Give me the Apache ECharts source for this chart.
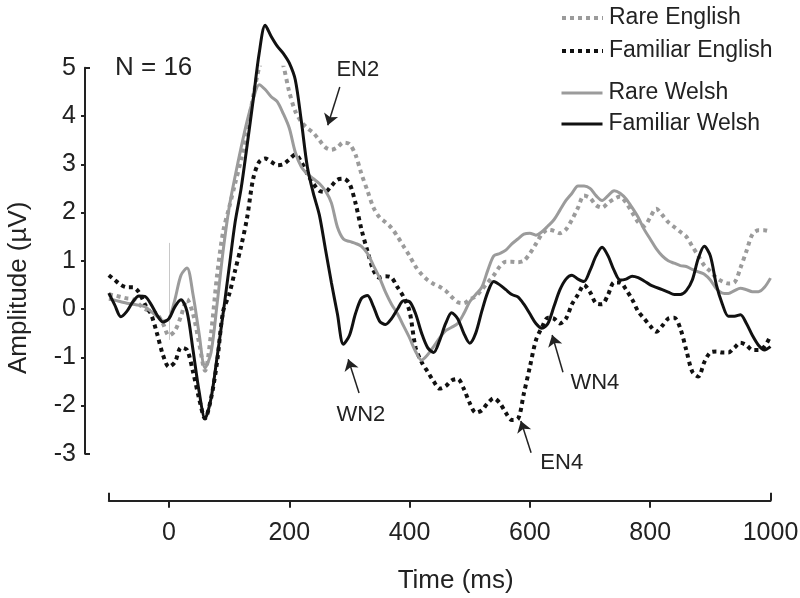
<!DOCTYPE html>
<html>
<head>
<meta charset="utf-8">
<script src="https://cdn.jsdelivr.net/npm/echarts@6/dist/echarts.min.js"></script>
<style>
  html, body { margin: 0; padding: 0; background: #fff; }
  #chart { width: 800px; height: 598px; }
</style>
</head>
<body>
<div id="chart"></div>
<script>
// Sample times (ms), one value every 10 ms from -100 to 1000
const timeMs = [
  -100, -90, -80, -70, -60, -50, -40, -30, -20, -10,
  0, 10, 20, 30, 40, 50, 60, 70, 80, 90,
  100, 110, 120, 130, 140, 150, 160, 170, 180, 190,
  200, 210, 220, 230, 240, 250, 260, 270, 280, 290,
  300, 310, 320, 330, 340, 350, 360, 370, 380, 390,
  400, 410, 420, 430, 440, 450, 460, 470, 480, 490,
  500, 510, 520, 530, 540, 550, 560, 570, 580, 590,
  600, 610, 620, 630, 640, 650, 660, 670, 680, 690,
  700, 710, 720, 730, 740, 750, 760, 770, 780, 790,
  800, 810, 820, 830, 840, 850, 860, 870, 880, 890,
  900, 910, 920, 930, 940, 950, 960, 970, 980, 990,
  1000
];

// Grand-average amplitudes (µV)
const rareEnglish = [
  0.30, 0.28, 0.25, 0.22, 0.20, 0.10, 0.00, -0.05, -0.10, -0.30,
  -0.55, -0.45, -0.15, 0.20, -0.10, -0.70, -1.28, -0.50, 0.70, 1.60,
  2.10, 2.60, 3.10, 3.70, 4.40, 5.00, 5.30, 5.48, 5.40, 5.05,
  4.50, 4.10, 3.88, 3.75, 3.65, 3.50, 3.35, 3.30, 3.35, 3.45,
  3.42, 3.20, 2.80, 2.45, 2.10, 1.90, 1.80, 1.68, 1.50, 1.30,
  1.10, 0.88, 0.72, 0.60, 0.52, 0.46, 0.38, 0.25, 0.14, 0.12,
  0.20, 0.26, 0.40, 0.55, 0.70, 0.88, 0.98, 0.98, 0.97, 1.00,
  1.15, 1.35, 1.55, 1.64, 1.62, 1.57, 1.65, 1.85, 2.10, 2.35,
  2.30, 2.15, 2.10, 2.20, 2.28, 2.33, 2.20, 2.00, 1.80, 1.72,
  1.90, 2.08, 1.95, 1.80, 1.70, 1.60, 1.50, 1.30, 1.10, 0.90,
  0.78, 0.65, 0.57, 0.53, 0.55, 0.85, 1.20, 1.55, 1.63, 1.63,
  1.60
];

const familiarEnglish = [
  0.70, 0.60, 0.50, 0.45, 0.45, 0.35, 0.10, -0.10, -0.50, -0.95,
  -1.20, -1.10, -0.80, -0.85, -1.30, -1.85, -2.27, -1.85, -1.10, -0.05,
  0.30, 0.80, 1.30, 1.90, 2.70, 3.05, 3.12, 3.05, 2.98, 3.00,
  3.10, 3.20, 3.05, 2.80, 2.60, 2.45, 2.43, 2.55, 2.68, 2.70,
  2.60, 2.20, 1.65, 1.20, 0.80, 0.65, 0.68, 0.65, 0.45, 0.25,
  -0.05, -0.80, -1.10, -1.30, -1.50, -1.65, -1.60, -1.48, -1.45, -1.65,
  -1.95, -2.15, -2.10, -1.95, -1.85, -1.95, -2.15, -2.30, -2.28, -1.75,
  -1.20, -0.65, -0.38, -0.18, -0.20, -0.30, -0.20, 0.10, 0.30, 0.50,
  0.35, 0.12, 0.10, 0.30, 0.55, 0.55, 0.40, 0.20, -0.05, -0.20,
  -0.35, -0.47, -0.35, -0.20, -0.18, -0.40, -0.85, -1.30, -1.40, -1.10,
  -0.90, -0.88, -0.90, -0.90, -0.80, -0.70, -0.75, -0.85, -0.85, -0.78,
  -0.55
];

const rareWelsh = [
  0.20, 0.18, 0.15, 0.12, 0.10, 0.08, 0.05, -0.05, -0.15, -0.25,
  -0.20, 0.20, 0.70, 0.85, 0.30, -0.50, -1.22, -0.90, 0.10, 1.20,
  2.10, 2.75, 3.35, 3.90, 4.35, 4.65, 4.55, 4.40, 4.30, 4.05,
  3.75, 3.25, 2.95, 2.80, 2.70, 2.60, 2.45, 2.20, 1.70, 1.45,
  1.40, 1.36, 1.30, 1.15, 0.90, 0.65, 0.35, 0.10, -0.10, -0.35,
  -0.60, -0.88, -1.06, -0.95, -0.78, -0.60, -0.45, -0.38, -0.30, -0.10,
  0.15, 0.30, 0.45, 0.80, 1.10, 1.15, 1.22, 1.35, 1.45, 1.55,
  1.57, 1.53, 1.60, 1.72, 1.85, 2.05, 2.25, 2.40, 2.55, 2.55,
  2.50, 2.35, 2.25, 2.35, 2.45, 2.40, 2.28, 2.10, 1.90, 1.65,
  1.45, 1.25, 1.10, 1.00, 0.95, 0.90, 0.88, 0.82, 0.77, 0.72,
  0.60, 0.42, 0.33, 0.32, 0.38, 0.43, 0.40, 0.36, 0.36, 0.45,
  0.64
];

const familiarWelsh = [
  0.33, 0.08, -0.16, -0.05, 0.15, 0.27, 0.26, 0.10, -0.12, -0.27,
  -0.20, 0.05, 0.19, -0.05, -0.85, -1.70, -2.27, -1.85, -1.00, -0.10,
  0.85, 1.80, 2.50, 3.40, 4.33, 5.30, 5.88, 5.65, 5.45, 5.30,
  5.10, 4.75, 3.90, 2.95, 2.40, 1.95, 1.25, 0.55, -0.10, -0.73,
  -0.55, -0.10, 0.22, 0.28, 0.05, -0.25, -0.32, -0.20, 0.00, 0.17,
  0.15, -0.10, -0.50, -0.80, -0.90, -0.65, -0.30, -0.08, -0.20, -0.50,
  -0.71, -0.50, -0.05, 0.35, 0.57, 0.50, 0.40, 0.30, 0.25, 0.10,
  -0.10, -0.30, -0.40, -0.30, 0.05, 0.40, 0.62, 0.70, 0.62, 0.57,
  0.80, 1.10, 1.28, 1.10, 0.80, 0.60, 0.62, 0.68, 0.65, 0.58,
  0.50, 0.45, 0.40, 0.35, 0.30, 0.30, 0.38, 0.60, 1.05, 1.30,
  1.10, 0.50, 0.10, -0.15, -0.15, -0.12, -0.30, -0.55, -0.75, -0.85,
  -0.78
];

// Axis ticks and labels
const xTickValues = [0, 200, 400, 600, 800];
const xLabelValues = [0, 200, 400, 600, 800, 1000];
const xEndCaps = [-100, 1000];
const yTickValues = [-2, -1, 0, 1, 2, 3, 4];
const yLabelValues = [-3, -2, -1, 0, 1, 2, 3, 4, 5];
const yEndCaps = [-3, 5];

// Component labels (time ms, amplitude µV) and their pointer arrows
const peakNames = ['EN2', 'WN2', 'WN4', 'EN4'];
const peakLabelAt = [[314, 4.95], [319, -2.2], [708, -1.53], [653, -2.95]];
const peakLabelShift = [0, 0, 0, 12];
const peakArrowFrom = [[284, 4.6], [316, -1.74], [655, -1.31], [602, -2.98]];
const peakArrowTo = [[264, 3.81], [298, -1.04], [637, -0.54], [585, -2.32]];

// Stimulus-onset marker at t = 0
const onsetMarker = [[0, 1.37], [0, -0.64]];

const FONT = '"Liberation Sans", Arial, Helvetica, sans-serif';
const INK = '#222';
const GRAY = '#9b9b9b';
const BLACK = '#111';

const pair = vals => timeMs.map((t, i) => [t, vals[i]]);

const chart = echarts.init(document.getElementById('chart'), null, { renderer: 'canvas' });

const axisLineStyle = { color: INK, width: 2 };

const styles = {
  'Rare English': { color: GRAY, width: 4, type: 'dotted' },
  'Familiar English': { color: BLACK, width: 4, type: 'dotted' },
  'Rare Welsh': { color: GRAY, width: 3, type: 'solid' },
  'Familiar Welsh': { color: BLACK, width: 3, type: 'solid' }
};

const legendItem = name => ({ name: name, lineStyle: styles[name] });

const legendBase = {
  orient: 'vertical',
  left: 555,
  itemWidth: 41,
  itemHeight: 14,
  selectedMode: false,
  itemStyle: { color: 'rgba(0,0,0,0)', borderWidth: 0, opacity: 0 },
  textStyle: { fontSize: 23, color: INK, fontFamily: FONT, lineHeight: 24, padding: [0, 0, 0, 1] }
};

chart.setOption({
  animation: false,
  backgroundColor: '#fff',
  textStyle: { fontFamily: FONT },
  grid: {
    left: 108.8, right: 29.5, top: 67.75, bottom: 144.25,
    containLabel: false, outerBoundsMode: 'none'
  },
  legend: [
    Object.assign({}, legendBase, { data: ['Rare English', 'Familiar English'].map(legendItem), top: 1, itemGap: 9 }),
    Object.assign({}, legendBase, { data: ['Rare Welsh', 'Familiar Welsh'].map(legendItem), top: 76, itemGap: 7 })
  ],
  xAxis: [
    {
      type: 'value', min: -100, max: 1000, position: 'bottom', offset: 47,
      axisLine: { show: true, onZero: false, lineStyle: axisLineStyle },
      axisTick: { show: true, customValues: xTickValues, length: 7, lineStyle: axisLineStyle },
      axisLabel: {
        customValues: xLabelValues, margin: 20, fontSize: 25, color: INK, fontFamily: FONT,
        formatter: v => String(v)
      },
      splitLine: { show: false },
      name: 'Time (ms)', nameLocation: 'middle', nameGap: 67,
      nameTextStyle: { fontSize: 26, color: INK, fontFamily: FONT, padding: [0, 0, 0, 32] }
    },
    {
      type: 'value', min: -100, max: 1000, position: 'bottom', offset: 47,
      axisLine: { show: false, onZero: false },
      axisTick: { show: true, inside: true, customValues: xEndCaps, length: 8, lineStyle: axisLineStyle },
      axisLabel: { show: false },
      splitLine: { show: false }
    }
  ],
  yAxis: [
    {
      type: 'value', min: -3, max: 5, interval: 1, position: 'left', offset: 23.8,
      axisLine: { show: true, onZero: false, lineStyle: axisLineStyle },
      axisTick: { show: true, customValues: yTickValues, length: 4, lineStyle: axisLineStyle },
      axisLabel: {
        customValues: yLabelValues, margin: 9, fontSize: 25, color: INK, fontFamily: FONT,
        formatter: v => String(v)
      },
      splitLine: { show: false },
      name: 'Amplitude (µV)', nameLocation: 'middle', nameGap: 53,
      nameTextStyle: { fontSize: 26, color: INK, fontFamily: FONT, padding: [0, 54, 0, 0] }
    },
    {
      type: 'value', min: -3, max: 5, interval: 1, position: 'left', offset: 23.8,
      axisLine: { show: false, onZero: false },
      axisTick: { show: true, inside: true, customValues: yEndCaps, length: 5, lineStyle: axisLineStyle },
      axisLabel: { show: false },
      splitLine: { show: false }
    }
  ],
  graphic: [
    {
      type: 'text', left: 115, top: 55, silent: true,
      style: { text: 'N = 16', font: '26px ' + FONT, fill: INK }
    }
  ],
  series: [
    {
      name: 'Rare English', type: 'line', data: pair(rareEnglish),
      symbol: 'none', smooth: 0.3, z: 2,
      itemStyle: { color: GRAY },
      lineStyle: styles['Rare English']
    },
    {
      name: 'Familiar English', type: 'line', data: pair(familiarEnglish),
      symbol: 'none', smooth: 0.3, z: 3,
      itemStyle: { color: BLACK },
      lineStyle: styles['Familiar English']
    },
    {
      name: 'Rare Welsh', type: 'line', data: pair(rareWelsh),
      symbol: 'none', smooth: 0.3, z: 4,
      itemStyle: { color: GRAY },
      lineStyle: styles['Rare Welsh']
    },
    {
      name: 'Familiar Welsh', type: 'line', data: pair(familiarWelsh),
      symbol: 'none', smooth: 0.3, z: 5, clip: false,
      itemStyle: { color: BLACK },
      lineStyle: styles['Familiar Welsh'],
      markLine: {
        silent: true,
        symbol: ['none', 'arrow'],
        symbolSize: 11,
        label: { show: false },
        lineStyle: { color: INK, width: 1.5, type: 'solid' },
        data: peakArrowFrom.map((from, i) => [{ coord: from }, { coord: peakArrowTo[i] }]).concat([
          [
            { coord: onsetMarker[0], symbol: 'none', lineStyle: { color: '#c8c8c8', width: 1, type: 'solid' } },
            { coord: onsetMarker[1], symbol: 'none' }
          ]
        ])
      },
      markPoint: {
        silent: true,
        symbol: 'circle',
        symbolSize: 0,
        label: {
          show: true, position: 'inside', color: INK, fontSize: 22, fontFamily: FONT,
          formatter: p => p.name
        },
        data: peakNames.map((n, i) => ({
          name: n, coord: peakLabelAt[i],
          label: { offset: [0, peakLabelShift[i]] }
        }))
      }
    }
  ]
});
</script>
</body>
</html>
